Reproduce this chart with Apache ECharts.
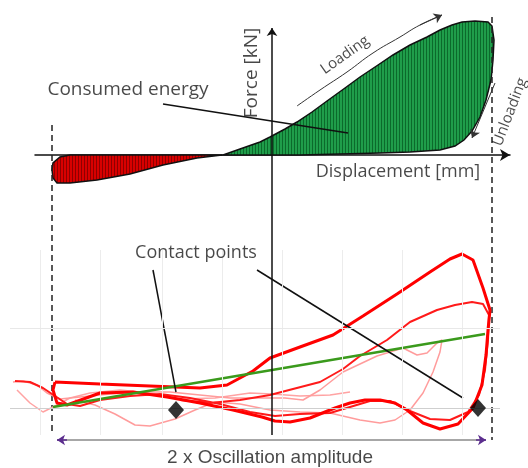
<!DOCTYPE html>
<html>
<head>
<meta charset="utf-8">
<script src="https://cdn.jsdelivr.net/npm/echarts@6/dist/echarts.min.js"></script>
<style>
  html, body { margin: 0; padding: 0; background: #fff; }
  #main { width: 528px; height: 468px; }
</style>
</head>
<body>
<div id="main"></div>
<script>
// ---- top sketch: displacement [mm] vs force [kN] ----
// green = positive work, red = negative work
var greenLoop = [[-4.9, 0], [-3.2, 0.6], [-1.2, 1.3], [-0.2, 1.8], [1.3, 2.6], [2.5, 3.3], [4.0, 4.3], [5.5, 5.4],
  [7.3, 6.7], [8.8, 7.8], [10.6, 9.0], [12.1, 10.0], [13.8, 11.0], [15.5, 11.8], [16.8, 12.5], [18.0, 13.0],
  [19.0, 13.3], [20.3, 13.4], [21.6, 13.3], [22.0, 12.9], [22.2, 11.5], [22.1, 9.5], [21.9, 7.5], [21.4, 5.5],
  [20.8, 3.8], [20.0, 2.4], [19.2, 1.5], [18.3, 0.9], [16.8, 0.5], [13.8, 0.3], [10.8, 0.2], [6.8, 0.1], [2.8, 0]];
var redLoop = [[-5.0, 0], [-7.5, -0.3], [-10.9, -1.0], [-14.2, -1.9], [-17.5, -2.5], [-20.2, -2.8], [-21.5, -2.8],
  [-21.9, -2.3], [-22.0, -1.5], [-21.9, -0.8], [-21.2, -0.2], [-20.2, 0]];
var loadingArc = [[2.5, 4.9], [4.8, 6.5], [7.5, 8.3], [10.1, 10.2], [12.8, 11.8], [14.8, 13.0], [17.0, 14.0]];
var unloadingArrow = [[22.3, 7.2], [20.0, 1.7]];
var energyLeader = [[-10.9, 5.1], [7.6, 2.2]];
var forceAxis = [[0, -28.0], [0, 12.7]];
var leftBound = [[-22.0, 3.0], [-22.0, -28.0]];
var rightBound = [[22.0, 13.8], [22.0, -28.5]];

// ---- bottom: measured hysteresis loops ----
var loopThick = [[-21.7, 2.6], [-17.2, 2.4], [-12.2, 2.2], [-7.2, 2.0], [-4.5, 2.3], [-1.9, 3.7], [-0.2, 5.0],
  [2.8, 6.1], [6.1, 7.3], [9.1, 9.2], [12.5, 11.4], [15.8, 13.6], [17.8, 14.9], [19.0, 15.4], [20.1, 14.8],
  [21.1, 12.0], [21.8, 9.8], [21.6, 7.8], [21.4, 5.3], [21.0, 2.3], [20.1, 0], [18.6, -1.6], [16.8, -2.1],
  [15.1, -1.5], [13.5, -0.2], [12.3, 0.5], [10.8, 0.8], [9.3, 0.8], [7.8, 0.5], [6.3, 0], [3.8, -1.0],
  [1.8, -1.4], [0.3, -1.3], [-1.0, -0.9], [-3.9, -0.2], [-7.2, 0.5], [-10.5, 1.1], [-13.9, 1.6], [-17.2, 1.5],
  [-20.5, 0.3], [-21.5, 0.5], [-21.9, 1.8], [-21.7, 2.6]];
var loopMid = [[-25.7, 2.7], [-24.2, 2.6], [-22.9, 2.0], [-21.7, 1.2], [-20.5, 0.4], [-19.2, 0.2], [-17.2, 0.8],
  [-14.2, 1.2], [-11.2, 1.4], [-8.2, 1.0], [-5.2, 0.4], [-2.2, -0.4], [0.3, -0.8], [2.8, -0.6], [5.8, -0.5],
  [7.8, 0.1], [9.8, 0.7], [11.8, 0.7], [13.8, -0.3], [15.8, -1.1], [17.8, -1.2], [19.6, -0.4], [20.7, 1.3],
  [21.3, 3.8], [21.6, 6.8], [21.7, 9.3], [21.1, 10.4], [20.0, 10.6], [18.3, 10.3], [16.5, 9.8], [13.8, 8.6],
  [11.5, 6.8], [8.8, 5.2], [7.1, 3.9], [4.8, 2.6], [2.1, 1.9], [-0.2, 1.3], [-3.2, 0.8], [-6.2, 0.5], [-9.2, 0.8]];
var loopLight1 = [[-25.9, 2.6], [-24.9, 2.7], [-23.5, 2.3], [-22.5, 1.5], [-21.2, 0.9], [-19.2, 1.1], [-16.2, 1.4],
  [-13.2, 1.6], [-10.2, 1.6], [-7.2, 1.3], [-4.2, 1.0], [-1.2, 1.0], [1.3, 1.0], [3.1, 0.8], [4.8, 1.8],
  [7.1, 3.6], [10.5, 5.2], [13.1, 6.0], [14.5, 5.3], [15.5, 5.5], [16.5, 6.5], [17.0, 6.8], [16.8, 5.6],
  [16.1, 3.6], [15.1, 1.5], [13.8, -0.2], [12.3, -1.2], [10.8, -1.5], [8.8, -1.2], [5.8, -0.5], [2.8, -0.4],
  [-0.2, -0.2], [-3.2, 0.4], [-5.7, 0.6], [-7.7, -0.2], [-9.7, -1.1], [-12.2, -1.8], [-13.7, -1.7],
  [-15.7, -0.6], [-17.7, 0.3], [-19.7, 0.8]];
var loopLight2 = [[-25.5, 1.8], [-24.2, 0.5], [-22.9, -0.4], [-21.9, 0.1], [-20.2, 1.0], [-18.2, 1.5], [-15.2, 1.8],
  [-12.2, 1.5], [-9.2, 0.9], [-5.7, 1.0], [-2.2, 1.5], [0, 1.4], [2.8, 1.2], [5.8, 1.3], [7.8, 1.6]];
var fitLine = [[-21.9, 0.1], [21.3, 7.4]];
var contactPoints = [[-9.6, -0.2], [20.6, 0.0]];
var contactLeaderL = [[-11.9, 13.8], [-9.6, 1.6]];
var contactLeaderR = [[-1.5, 13.8], [19.1, 1.0]];
var amplitude = [[-21.5, -3.2], [21.4, -3.2]];
var gridX = [-23.2, -17.2, -11, -5, 1, 7, 13, 19];
var gridY = [0, 8];

var titleEnergy = 'Consumed energy';
var titleForce = 'Force [kN]';
var titleDisp = 'Displacement [mm]';
var titleLoading = 'Loading';
var titleUnloading = 'Unloading';
var titleContact = 'Contact points';
var titleAmplitude = '2 x Oscillation amplitude';

function hatch(base, dark) {
  var c = document.createElement('canvas');
  c.width = 3;
  c.height = 6;
  var ctx = c.getContext('2d');
  ctx.fillStyle = base;
  ctx.fillRect(0, 0, 3, 6);
  ctx.fillStyle = dark;
  ctx.fillRect(0, 0, 1, 6);
  return { image: c, repeat: 'repeat' };
}

function loopShape(points, fill) {
  return function (params, api) {
    if (params.dataIndex !== 0) return null;
    return {
      type: 'polygon',
      shape: { points: points.map(function (p) { return api.coord(p); }) },
      style: { fill: fill, stroke: '#111', lineWidth: 1.5 }
    };
  };
}

function plainLine(grid, data, color, width, extra) {
  var s = {
    type: 'line',
    xAxisIndex: grid,
    yAxisIndex: grid,
    data: data,
    symbol: 'none',
    silent: true,
    clip: false,
    lineStyle: { color: color, width: width }
  };
  for (var k in extra) s[k] = extra[k];
  return s;
}

function textAt(grid, x, y, text, font, size, rotate) {
  return {
    type: 'scatter',
    xAxisIndex: grid,
    yAxisIndex: grid,
    symbolSize: 0,
    clip: false,
    silent: true,
    z: 10,
    data: [[x, y]],
    label: {
      show: true,
      position: 'inside',
      formatter: text,
      fontFamily: font,
      fontSize: size,
      color: '#1a1a1a',
      rotate: rotate || 0
    }
  };
}

var chart = echarts.init(document.getElementById('main'));

var option = {
  animation: false,
  backgroundColor: '#fff',
  grid: [
    { left: 35, right: 18, top: 0, bottom: 33 },
    { left: 10, right: 28, top: 250, bottom: 23 }
  ],
  xAxis: [
    {
      gridIndex: 0, type: 'value', min: -23.7, max: 23.8,
      axisLine: { onZero: true, symbol: ['none', 'arrow'], symbolSize: [9, 10], lineStyle: { color: '#111', width: 1.5 } },
      axisTick: { show: false }, axisLabel: { show: false }, splitLine: { show: false }
    },
    { gridIndex: 1, type: 'value', min: -26.2, max: 22.8, show: false }
  ],
  yAxis: [
    { gridIndex: 0, type: 'value', min: -28, max: 15.5, show: false },
    { gridIndex: 1, type: 'value', min: -3.7, max: 15.8, show: false }
  ],
  series: [
    // faint grid of the measurement plot
    {
      type: 'line', xAxisIndex: 1, yAxisIndex: 1, data: [], z: 0, silent: true,
      markLine: {
        silent: true, symbol: 'none', label: { show: false },
        lineStyle: { color: '#ececec', width: 1, type: 'solid' },
        data: gridX.map(function (v) { return [{ coord: [v, 15.8] }, { coord: [v, -2.7] }]; })
          .concat(gridY.map(function (v) {
            return { yAxis: v, lineStyle: { color: v === 0 ? '#cfcfcf' : '#e8e8e8', width: 1 } };
          }))
      }
    },
    {
      type: 'custom', xAxisIndex: 0, yAxisIndex: 0, data: greenLoop, silent: true,
      renderItem: loopShape(greenLoop, hatch('#1f9d4a', '#0b6a2b'))
    },
    {
      type: 'custom', xAxisIndex: 0, yAxisIndex: 0, data: redLoop, silent: true,
      renderItem: loopShape(redLoop, hatch('#d80000', '#8e0000'))
    },
    plainLine(0, leftBound, '#222', 1.5, { lineStyle: { color: '#222', width: 1.5, type: [6, 4] } }),
    plainLine(0, rightBound, '#222', 1.5, { lineStyle: { color: '#222', width: 1.5, type: [6, 4] } }),
    plainLine(0, energyLeader, '#111', 1.5, { z: 5 }),
    plainLine(0, loadingArc, '#333', 1, {
      smooth: true,
      markLine: {
        silent: true, symbol: ['none', 'arrow'], symbolSize: 8, label: { show: false },
        lineStyle: { color: '#333', width: 1, type: 'solid' },
        data: [
          [{ coord: loadingArc[loadingArc.length - 2] }, { coord: loadingArc[loadingArc.length - 1] }],
          [{ coord: unloadingArrow[0] }, { coord: unloadingArrow[1] }],
          [{ coord: forceAxis[0], lineStyle: { color: '#111', width: 1.5 }, symbolSize: 10 }, { coord: forceAxis[1] }]
        ]
      }
    }),
    plainLine(1, loopLight2, '#ffa3a3', 1.5),
    plainLine(1, loopLight1, '#ff9c9c', 1.5),
    plainLine(1, loopMid, '#ff1a1a', 2),
    plainLine(1, loopThick, '#ff0000', 3),
    plainLine(1, fitLine, '#3a9a1c', 2.5),
    plainLine(1, contactLeaderL, '#111', 1.5),
    plainLine(1, contactLeaderR, '#111', 1.5),
    {
      type: 'scatter', xAxisIndex: 1, yAxisIndex: 1, data: contactPoints, silent: true, clip: false,
      symbol: 'diamond', symbolSize: [16, 18], itemStyle: { color: '#000' }, z: 6
    },
    plainLine(1, amplitude, '#8a8a8a', 1.5, {
      markLine: {
        silent: true, label: { show: false }, symbolSize: 8,
        lineStyle: { color: '#5b2d8e', width: 1.5, type: 'solid' },
        data: [
          [{ coord: [amplitude[0][0] + 1, amplitude[0][1]], symbol: 'none' }, { coord: amplitude[0], symbol: 'arrow' }],
          [{ coord: [amplitude[1][0] - 1, amplitude[1][1]], symbol: 'none' }, { coord: amplitude[1], symbol: 'arrow' }]
        ]
      }
    }),
    textAt(0, -14.4, 6.5, titleEnergy, 'Open Sans', 19),
    textAt(0, -2.0, 8.2, titleForce, 'Open Sans', 19, 90),
    textAt(0, 12.6, -1.7, titleDisp, 'Open Sans', 18),
    textAt(0, 7.3, 10.0, titleLoading, 'Open Sans', 15, 35),
    textAt(0, 23.8, 4.3, titleUnloading, 'Open Sans', 15, 69),
    textAt(1, -7.6, 15.5, titleContact, 'Open Sans', 18),
    textAt(1, -0.2, -5.0, titleAmplitude, 'Liberation Sans', 19)
  ]
};

chart.setOption(option);
</script>
</body>
</html>
